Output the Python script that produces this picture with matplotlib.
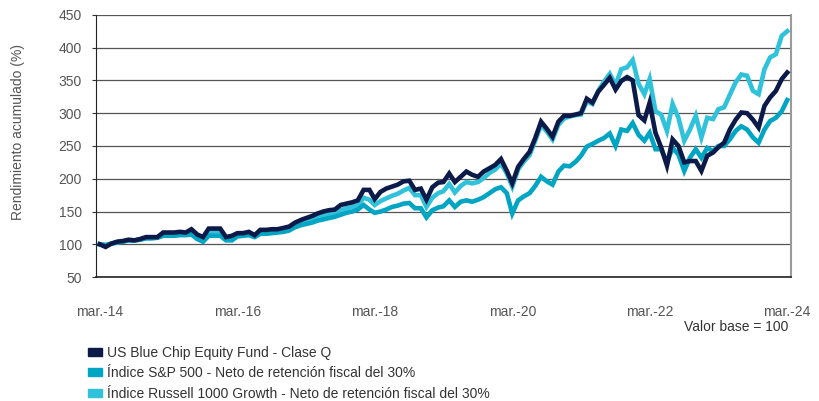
import matplotlib
matplotlib.use('Agg')
import matplotlib.pyplot as plt
from matplotlib.patches import Patch
import pandas as pd

plt.rcParams['font.family'] = ['Liberation Sans', 'DejaVu Sans']

# monthly values, base 100 at mar-14
fund = [
    100, 96, 101, 104, 105, 107, 106, 108, 111, 111,
    111, 118, 118, 118, 119, 118, 123, 115, 111, 124,
    124, 124, 111, 113, 117, 117, 119, 114, 122, 122,
    123, 123, 125, 127, 133, 137, 140, 143, 147, 150,
    152, 153, 160, 162, 164, 167, 183, 183, 169, 180,
    185, 188, 191, 196, 197, 183, 185, 168, 187, 194,
    195, 208, 195, 203, 211, 206, 203, 211, 216, 221,
    230, 212, 193, 218, 230, 241, 262, 287, 276, 264,
    287, 296, 296, 298, 300, 322, 316, 333, 343, 354,
    336, 349, 355, 350, 297, 289, 316, 270, 248, 220,
    260, 250, 225, 227, 227, 212, 235, 240, 248, 255,
    275, 290, 301, 300, 290, 278, 311, 324, 334, 352,
    362,
]
sp500 = [
    100, 99, 101, 103, 104, 106, 106, 107, 109, 109,
    110, 113, 113, 113, 114, 114, 115, 108, 104, 113,
    113, 113, 106, 106, 112, 113, 114, 111, 116, 116,
    117, 118, 119, 121, 126, 129, 131, 133, 136, 138,
    140, 142, 145, 148, 150, 153, 160, 153, 148, 150,
    153, 157, 159, 162, 163, 155, 155, 141, 152, 156,
    158, 167, 157, 165, 167, 165, 168, 172, 178, 184,
    187, 178, 147, 167, 173, 178, 189, 203, 196, 191,
    211, 220, 219, 226, 235, 249, 253, 258, 262, 269,
    250, 275, 273, 285, 267, 258, 270, 245, 245, 225,
    247, 237, 212, 232, 245, 232, 247, 242, 250, 250,
    260, 273, 280, 275, 263, 255, 275, 288, 293, 303,
    320,
]
russell = [
    100, 98, 101, 103, 104, 106, 106, 107, 110, 110,
    110, 115, 115, 115, 116, 116, 119, 111, 107, 118,
    118, 118, 108, 109, 114, 115, 116, 112, 119, 119,
    120, 120, 122, 124, 129, 133, 135, 138, 141, 144,
    146, 148, 152, 155, 157, 160, 171, 168, 160, 166,
    170, 174, 177, 182, 186, 175, 175, 157, 171, 178,
    181, 192, 179, 189, 195, 193, 195, 201, 209, 214,
    223, 208, 188, 214, 226, 236, 258, 282, 272, 260,
    282, 292, 295, 297, 298, 318, 314, 334, 348, 360,
    343, 367, 370, 381, 345, 329, 352, 303, 298, 273,
    314, 293, 258, 275, 296, 263, 293, 291, 306, 309,
    328, 347, 359, 357, 334, 329, 367, 385, 390, 418,
    425,
]
tick_labels = ['mar.-14', 'mar.-16', 'mar.-18', 'mar.-20', 'mar.-22', 'mar.-24']
series_names = [
    'US Blue Chip Equity Fund - Clase Q',
    'Índice S&P 500 - Neto de retención fiscal del 30%',
    'Índice Russell 1000 Growth - Neto de retención fiscal del 30%',
]

c_fund = '#0b1a48'
c_sp = '#00a5c4'
c_rus = '#30c2da'
txt = '#555555'

dates = pd.date_range('2014-03-01', periods=len(fund), freq='MS')

fig = plt.figure(figsize=(8.19, 4.01), dpi=100)
ax = fig.add_axes([0.117, 0.309, 0.849, 0.654])

ax.plot(dates, russell, color=c_rus, lw=3.3, solid_joinstyle='miter', zorder=3)
ax.plot(dates, sp500, color=c_sp, lw=3.3, solid_joinstyle='miter', zorder=4)
ax.plot(dates, fund, color=c_fund, lw=3.3, solid_joinstyle='miter', zorder=5)

ax.set_ylim(50, 450)
ax.set_yticks(range(50, 451, 50))
ax.set_xlim(dates[0] - pd.Timedelta(days=21), dates[-1] + pd.Timedelta(days=21))
ax.set_xticks(dates[::24])
ax.set_xticklabels(tick_labels)

ax.grid(axis='y', color='#555555', lw=0.9)
ax.set_axisbelow(True)
ax.tick_params(axis='x', length=0, pad=20, labelsize=10, labelcolor=txt)
ax.tick_params(axis='y', length=3, width=0.8, color='#333333', pad=7,
               labelsize=10, labelcolor=txt)

ax.spines['top'].set_visible(False)
ax.spines['right'].set_color('#9a9a9a')
ax.spines['right'].set_linewidth(1.5)
ax.spines['left'].set_color('#222222')
ax.spines['bottom'].set_color('#222222')
ax.spines['bottom'].set_linewidth(1.2)

fig.text(0.022, 0.671, 'Rendimiento acumulado (%)', rotation=90,
         ha='center', va='center', fontsize=10, color=txt)
fig.text(788 / 819, 1 - 327 / 401, 'Valor base = 100', ha='right', va='center',
         fontsize=10, color='#333333')

handles = [Patch(color=c) for c in (c_fund, c_sp, c_rus)]
fig.legend(handles, series_names, loc='upper left',
           bbox_to_anchor=(88 / 819, 1 - 346 / 401), frameon=False,
           fontsize=10, labelcolor='#333333', handlelength=1.0, handleheight=0.5,
           handletextpad=0.35, labelspacing=0.45, borderaxespad=0, borderpad=0)

fig.savefig('out.png', dpi=100)
plt.close(fig)
